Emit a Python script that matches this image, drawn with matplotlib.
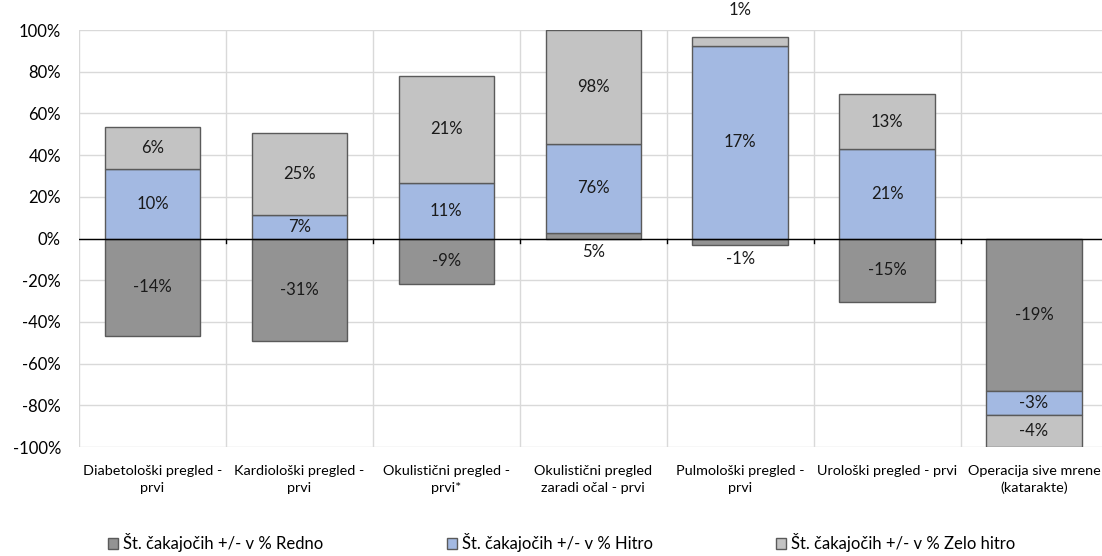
import matplotlib.pyplot as plt
import numpy as np
from matplotlib.ticker import MultipleLocator, PercentFormatter

categories = [
    "Diabetološki pregled -\nprvi",
    "Kardiološki pregled -\nprvi",
    "Okulistični pregled -\nprvi*",
    "Okulistični pregled\nzaradi očal - prvi",
    "Pulmološki pregled -\nprvi",
    "Urološki pregled - prvi",
    "Operacija sive mrene\n(katarakte)",
]
series_names = [
    "Št. čakajočih +/- v % Redno",
    "Št. čakajočih +/- v % Hitro",
    "Št. čakajočih +/- v % Zelo hitro",
]
redno = [-14, -31, -9, 5, -0.6, -15, -19]
hitro = [10, 7, 11, 76, 17, 21, -3]
zelo_hitro = [6, 25, 21, 98, 0.8, 13, -4]

colors = ["#939393", "#a3b9e2", "#c3c3c3"]
edge = "#5a5a5a"

plt.rcParams["font.family"] = ["Lato", "DejaVu Sans"]
plt.rcParams["axes.unicode_minus"] = False

values = np.array([redno, hitro, zelo_hitro], dtype=float)
# each bar shows every series as a share of the absolute total
shares = values / np.abs(values).sum(axis=0) * 100

fig = plt.figure(figsize=(11.02, 5.56), dpi=100)
ax = fig.add_axes([0.0717, 0.196, 0.9333, 0.750])

x = np.arange(len(categories))
pos_base = np.zeros(len(categories))
neg_base = np.zeros(len(categories))
for i, (name, color) in enumerate(zip(series_names, colors)):
    s = shares[i]
    bottom = np.where(s >= 0, pos_base, neg_base)
    ax.bar(x, s, 0.65, bottom=bottom, color=color, edgecolor=edge,
           linewidth=1, label=name, zorder=3)
    for j in range(len(categories)):
        label = f"{values[i, j]:.0f}%"
        if abs(s[j]) >= 5:
            ax.text(x[j], bottom[j] + s[j] / 2, label, ha="center",
                    va="center", fontsize=12, color="#1a1a1a", zorder=4)
        elif i == len(series_names) - 1:
            ax.annotate(label, (x[j], pos_base[j] + s[j]), xytext=(0, 19),
                        textcoords="offset points", ha="center", va="center",
                        fontsize=12, color="#1a1a1a", annotation_clip=False)
        else:
            end = min(neg_base[j] + min(s[j], 0), 0)
            ax.annotate(label, (x[j], end), xytext=(0, -10),
                        textcoords="offset points", ha="center", va="center",
                        fontsize=12, color="#1a1a1a", annotation_clip=False)
    pos_base += np.clip(s, 0, None)
    neg_base += np.clip(s, None, 0)

ax.set_xlim(-0.5, len(categories) - 0.5)
ax.set_ylim(-100, 100)
ax.yaxis.set_major_locator(MultipleLocator(20))
ax.yaxis.set_major_formatter(PercentFormatter(decimals=0))
ax.set_xticks(x)
ax.set_xticklabels(categories, fontsize=10.4, linespacing=1.45)
ax.set_xticks(np.arange(-0.5, len(categories), 1), minor=True)
ax.tick_params(axis="x", which="major", length=0, pad=13)
ax.tick_params(axis="x", which="minor", length=0)
ax.tick_params(axis="y", length=0, labelsize=12, pad=13)
ax.grid(axis="y", color="#d9d9d9", linewidth=1, zorder=0)
ax.grid(axis="x", which="minor", color="#d9d9d9", linewidth=1, zorder=0)
for spine in ax.spines.values():
    spine.set_visible(False)
ax.axhline(0, color="black", linewidth=1, zorder=5)
for b in np.arange(0.5, len(categories) - 0.5, 1):
    ax.plot([b, b], [0, -2], color="black", linewidth=1, zorder=5)

fig.legend(loc="lower center", bbox_to_anchor=(0.51, -0.02), ncol=3,
           frameon=False, fontsize=12, columnspacing=7.4,
           handlelength=0.6, handleheight=0.6, handletextpad=0.3)

fig.savefig("out.png", dpi=100)
